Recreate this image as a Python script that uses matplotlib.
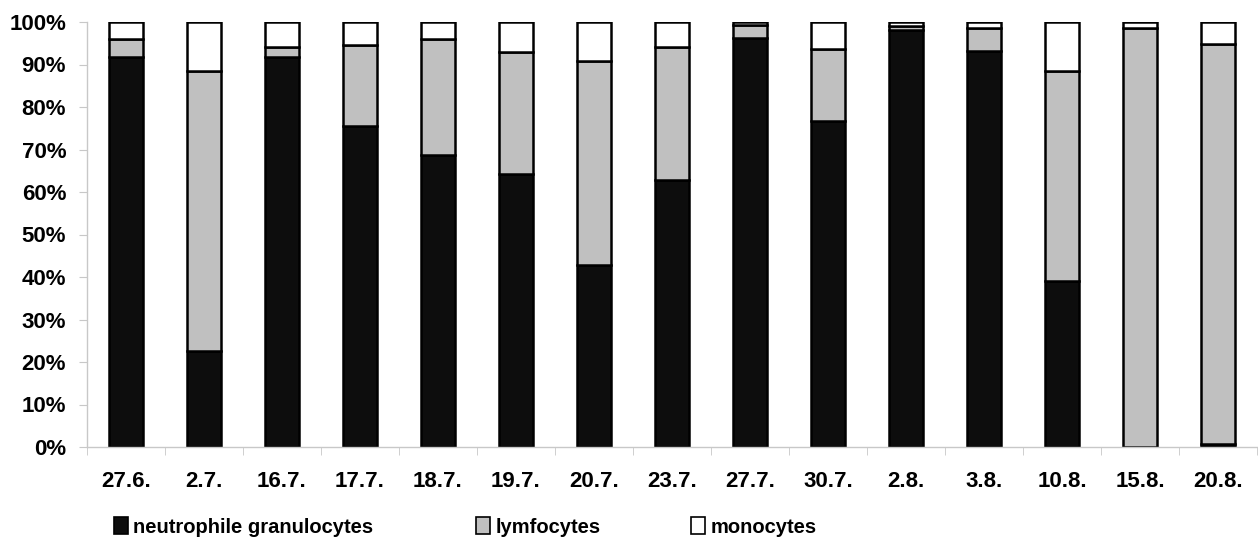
import matplotlib
matplotlib.use("Agg")
import matplotlib.pyplot as plt
from matplotlib.patches import Patch
import numpy as np

dates = ["27.6.", "2.7.", "16.7.", "17.7.", "18.7.", "19.7.", "20.7.", "23.7.",
         "27.7.", "30.7.", "2.8.", "3.8.", "10.8.", "15.8.", "20.8."]
neutrophils = [91.8, 22.6, 91.8, 75.5, 68.7, 64.2, 42.8, 62.8,
               96.3, 76.8, 98.1, 93.2, 39.1, 0.0, 0.7]
lymphocytes = [4.2, 65.9, 2.4, 19.2, 27.2, 28.7, 48.1, 31.4,
               3.0, 16.8, 0.9, 5.5, 49.4, 98.7, 94.1]
monocytes = [100 - n - l for n, l in zip(neutrophils, lymphocytes)]
yticks = list(range(0, 101, 10))
series_names = ["neutrophile granulocytes", "lymfocytes", "monocytes"]
colors = ["#0d0d0d", "#c0c0c0", "#ffffff"]

fam = ["Liberation Sans", "DejaVu Sans"]
plt.rcParams["font.family"] = fam

W, H = 1258, 544
fig = plt.figure(figsize=(W / 100, H / 100), dpi=100)
ax = fig.add_axes([87 / W, (H - 447) / H, (1257 - 87) / W, (447 - 22) / H])

x = np.arange(len(dates))
bw = 0.44
n = np.array(neutrophils)
l = np.array(lymphocytes)
m = np.array(monocytes)
ax.bar(x, n, bw, color=colors[0], edgecolor="black", linewidth=1.8)
ax.bar(x, l, bw, bottom=n, color=colors[1], edgecolor="black", linewidth=1.8)
ax.bar(x, m, bw, bottom=n + l, color=colors[2], edgecolor="black", linewidth=1.8)

ax.set_xlim(-0.5, len(dates) - 0.5)
ax.set_ylim(0, 100)
ax.set_yticks(yticks)
ax.set_yticklabels([f"{v}%" for v in yticks], fontsize=16, fontweight="bold")
ax.set_xticks(x)
ax.set_xticklabels(dates, fontsize=16, fontweight="bold")
ax.set_xticks(np.arange(len(dates) + 1) - 0.5, minor=True)
ax.tick_params(axis="x", which="major", length=0, pad=17)
ax.tick_params(axis="x", which="minor", length=6, color="#c8c8c8", direction="out")
ax.tick_params(axis="y", length=6, color="#c8c8c8", pad=9)
for s in ["top", "right"]:
    ax.spines[s].set_visible(False)
for s in ["left", "bottom"]:
    ax.spines[s].set_color("#c8c8c8")
    ax.spines[s].set_linewidth(1)
ax.set_axisbelow(True)

legend_x = [114, 476, 691]
for name, c, lx in zip(series_names, colors, legend_x):
    h = Patch(facecolor=c, edgecolor="black", linewidth=1.2)
    fig.legend([h], [name], loc="center left",
               bbox_to_anchor=(lx / W, (H - 527) / H),
               frameon=False, handlelength=0.7, handleheight=0.9,
               handletextpad=0.25, borderpad=0, borderaxespad=0,
               prop={"size": 14.5, "weight": "bold", "family": fam})

fig.savefig("out.png", dpi=100)
